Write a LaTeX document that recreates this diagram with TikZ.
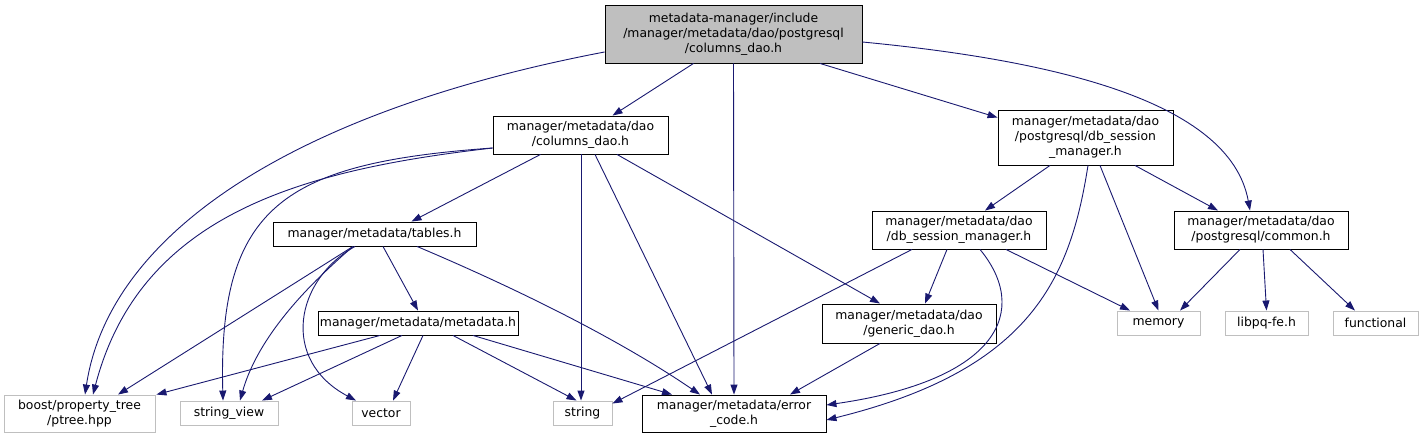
\documentclass[tikz,border=0pt]{standalone}
\usepackage{fontspec}
\setmainfont{DejaVu Sans}
\usetikzlibrary{arrows.meta}
\definecolor{edgeblue}{HTML}{191970}
\definecolor{rootgray}{HTML}{BFBFBF}
\definecolor{extgray}{HTML}{BFBFBF}
\tikzset{
  box/.style={draw=black, line width=0.9pt, fill=white, align=center, inner sep=0pt,
    font=\fontsize{12.4}{15}\selectfont},
  rootbox/.style={box, fill=rootgray},
  extbox/.style={box, draw=extgray},
  edge/.style={draw=edgeblue, line width=0.9pt, -{Triangle[length=10pt,width=7pt]}},
}
\begin{document}
\begin{tikzpicture}[x=1pt,y=-1pt]
\useasboundingbox (0,0) rectangle (1425,439);
% nodes
\node[rootbox, minimum width=257, minimum height=58] (root) at (733.5,34)
  {metadata-manager/include\\/manager/metadata/dao/postgresql\\/columns\_dao.h};
\node[box, minimum width=175, minimum height=38] (cdao) at (580.5,135)
  {manager/metadata/dao\\/columns\_dao.h};
\node[box, minimum width=175, minimum height=55] (dbsmpg) at (1085.5,137.5)
  {manager/metadata/dao\\/postgresql/db\_session\\\_manager.h};
\node[box, minimum width=203, minimum height=24] (tables) at (374.5,234)
  {manager/metadata/tables.h};
\node[box, minimum width=174, minimum height=38] (dbsm) at (959,230)
  {manager/metadata/dao\\/db\_session\_manager.h};
\node[box, minimum width=174, minimum height=38] (common) at (1261,230)
  {manager/metadata/dao\\/postgresql/common.h};
\node[box, minimum width=200, minimum height=24] (meta) at (418,323)
  {manager/metadata/metadata.h};
\node[box, minimum width=174, minimum height=39] (generic) at (909,323.5)
  {manager/metadata/dao\\/generic\_dao.h};
\node[extbox, minimum width=83, minimum height=24] (memory) at (1158.5,323) {memory};
\node[extbox, minimum width=83, minimum height=24] (libpq) at (1266.5,323) {libpq-fe.h};
\node[extbox, minimum width=85, minimum height=24] (functional) at (1375.5,323) {functional};
\node[extbox, minimum width=151, minimum height=37] (boost) at (79.5,413.5)
  {boost/property\_tree\\/ptree.hpp};
\node[extbox, minimum width=98, minimum height=24] (sview) at (229,413) {string\_view};
\node[extbox, minimum width=58, minimum height=24] (vector) at (381,413) {vector};
\node[extbox, minimum width=59, minimum height=24] (string) at (582.5,413) {string};
\node[box, minimum width=184, minimum height=37] (error) at (734,413.5)
  {manager/metadata/error\\\_code.h};
% edges from root
\draw[edge] ([yshift=-18]root.west) .. controls (300,110) and (110,230) .. ([xshift=5.5]boost.north);
\draw[edge] ([xshift=-40]root.south) -- ([xshift=32]cdao.north);
\draw[edge] (root.south) -- (error.north);
\draw[edge] ([xshift=86.5]root.south) -- ([yshift=-8]dbsmpg.north west);
\draw[edge] ([yshift=-8]root.east) .. controls (1050,60) and (1230,100) .. ([xshift=-11]common.north);
% edges from columns_dao
\draw[edge] ([yshift=-13]cdao.west) .. controls (300,170) and (140,215) .. ([xshift=13.5]boost.north);
\draw[edge] ([yshift=-13]cdao.west) .. controls (285,163) and (218,205) .. ([xshift=-6]sview.north);
\draw[edge] ([xshift=-40]cdao.south) -- ([xshift=37]tables.north);
\draw[edge] ([xshift=0.5]cdao.south) -- ([xshift=-1.5]string.north);
\draw[edge] ([xshift=14.5]cdao.south) -- ([xshift=-22]error.north);
\draw[edge] ([xshift=36.5]cdao.south) -- ([xshift=-29]generic.north);
% edges from postgresql db_session_manager
\draw[edge] ([xshift=-35.5]dbsmpg.south) -- ([xshift=26]dbsm.north);
\draw[edge] ([xshift=2.5]dbsmpg.south) .. controls (1070,280) and (1030,370) .. ([yshift=-6.5]error.east);
\draw[edge] ([xshift=14.5]dbsmpg.south) -- (memory.north);
\draw[edge] ([xshift=49.5]dbsmpg.south) -- ([xshift=-43]common.north);
% edges from tables
\draw[edge] ([xshift=-21.5]tables.south) -- ([xshift=38.5]boost.north);
\draw[edge] ([xshift=-21.5]tables.south) .. controls (320,275) and (260,330) .. ([xshift=11]sview.north);
\draw[edge] ([xshift=-19.5]tables.south) .. controls (295,280) and (280,360) .. ([xshift=-25]vector.north);
\draw[edge] ([xshift=8.5]tables.south) -- (meta.north);
\draw[edge] ([xshift=42.5]tables.south) .. controls (520,290) and (620,340) .. ([xshift=-34]error.north);
% edges from metadata.h
\draw[edge] ([xshift=-38]meta.south) -- ([xshift=1]boost.north east);
\draw[edge] ([xshift=-16]meta.south) -- ([xshift=33]sview.north);
\draw[edge] ([xshift=5]meta.south) -- ([xshift=12]vector.north);
\draw[edge] ([xshift=35]meta.south) -- ([xshift=-6]string.north);
\draw[edge] ([xshift=55]meta.south) -- ([xshift=-62]error.north);
% edges from dao db_session_manager
\draw[edge] ([xshift=-47]dbsm.south) -- ([yshift=-3]string.north east);
\draw[edge] ([xshift=-12]dbsm.south) -- ([xshift=16]generic.north);
\draw[edge] ([xshift=21]dbsm.south) .. controls (1030,310) and (1000,380) .. ([yshift=8.5]error.east);
\draw[edge] ([xshift=47]dbsm.south) -- ([xshift=-28.5]memory.north);
% generic
\draw[edge] ([xshift=-29]generic.south) -- ([xshift=56]error.north);
% common
\draw[edge] ([xshift=-21]common.south) -- ([xshift=21.5]memory.north);
\draw[edge] ([xshift=2]common.south) -- (libpq.north);
\draw[edge] ([xshift=29]common.south) -- ([xshift=-20.5]functional.north);
\end{tikzpicture}
\end{document}
